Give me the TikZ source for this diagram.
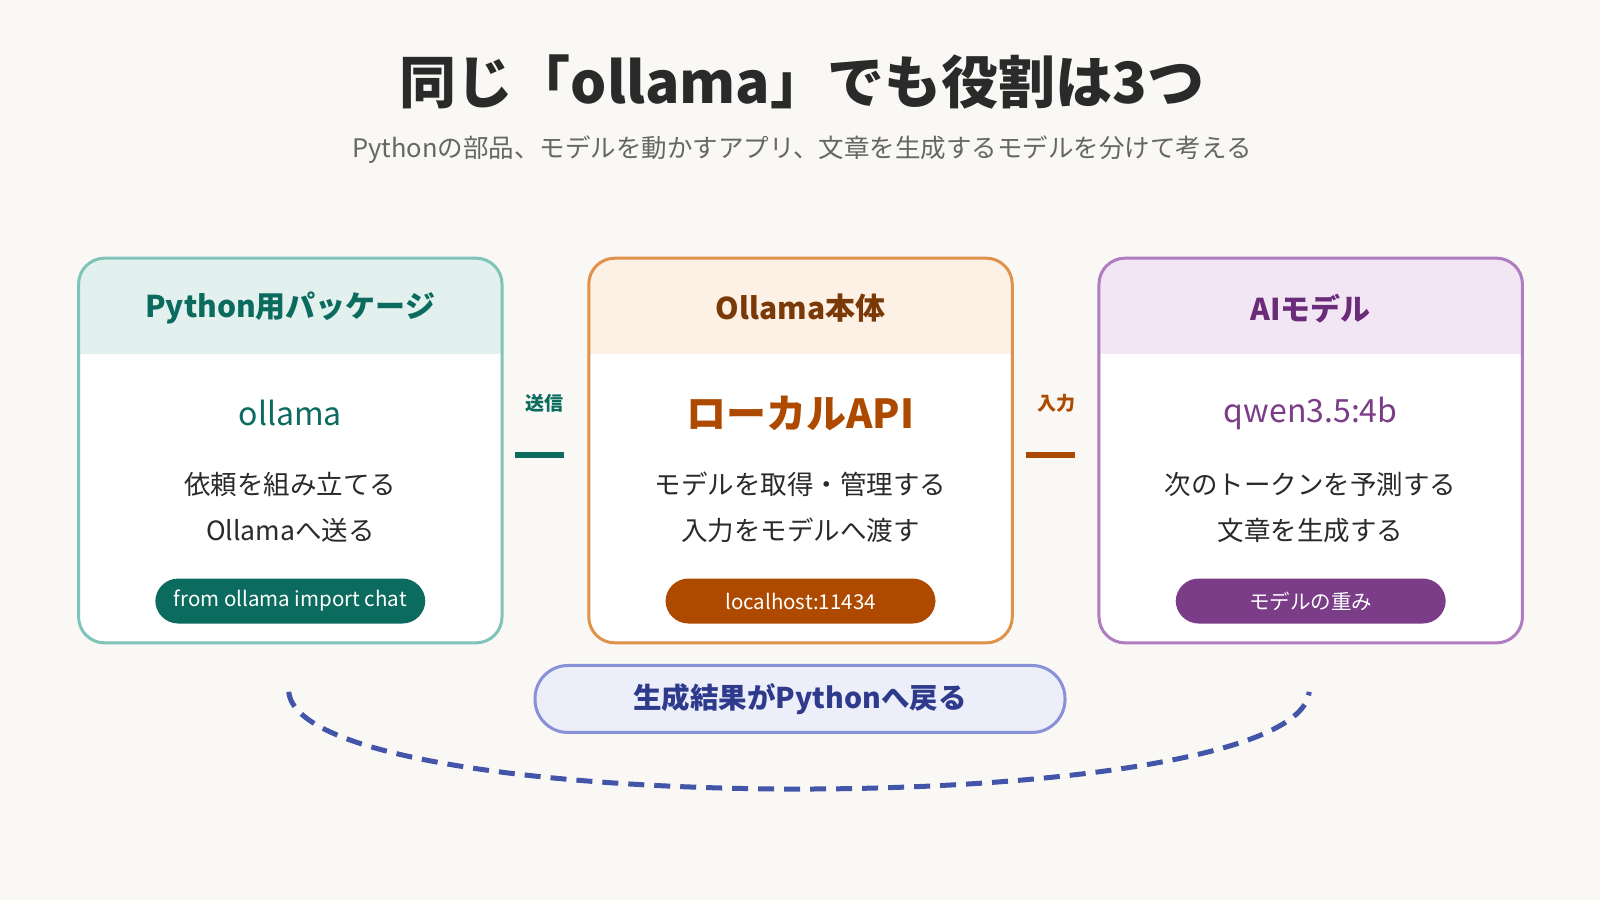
\documentclass[tikz,border=0pt]{standalone}
\usepackage{fontspec}
\setmainfont{Noto Sans CJK JP}
\usetikzlibrary{positioning}
\definecolor{bg}{HTML}{F9F8F5}
\definecolor{tealD}{HTML}{0B6B5F}\definecolor{tealB}{HTML}{7FC4B8}\definecolor{tealH}{HTML}{E3F1EE}
\definecolor{orT}{HTML}{7A3A08}\definecolor{orD}{HTML}{AE4A00}\definecolor{orB}{HTML}{E0914A}\definecolor{orH}{HTML}{FDF1E6}
\definecolor{puD}{HTML}{7B3C88}\definecolor{puT}{HTML}{6A2C78}\definecolor{puB}{HTML}{B07CC0}\definecolor{puH}{HTML}{F3E6F4}
\definecolor{blB}{HTML}{8890D8}\definecolor{blH}{HTML}{ECEEF9}\definecolor{blT}{HTML}{2E3B8C}\definecolor{blD}{HTML}{4355A8}
\definecolor{txt}{HTML}{2A2A2A}\definecolor{sub}{HTML}{666666}
\tikzset{
 fs/.style={font=\fontsize{#1}{#1}\selectfont},
 fb/.style={font=\fontsize{#1}{#1}\selectfont\bfseries},
 pill/.style={rounded corners=23pt,minimum width=270pt,minimum height=45pt,text=white,fs=20.5},
}
\begin{document}
\begin{tikzpicture}[x=1.0204pt,y=-1.0204pt]
\fill[bg] (0,0) rectangle (1568,882);
\useasboundingbox (0,0) rectangle (1568,882);
\node[fb=57,text=txt] (title) at (786,80) {同じ「ollama」でも役割は3つ};
\node[fs=25.5,text=sub] (subt) at (786,147) {Pythonの部品、モデルを動かすアプリ、文章を生成するモデルを分けて考える};
\foreach \x/\B/\H/\T/\D/\head/\main/\mf/\ms/\la/\lb/\pl/\n in {
 77/tealB/tealH/tealD/tealD/Python用パッケージ/ollama/fs/32/依頼を組み立てる/Ollamaへ送る/from ollama import chat/p,
 577/orB/orH/orT/orD/Ollama本体/ローカルAPI/fb/40/モデルを取得・管理する/入力をモデルへ渡す/localhost:11434/o,
 1077/puB/puH/puT/puD/AIモデル/qwen3.5:4b/fs/32/次のトークンを予測する/文章を生成する/モデルの重み/a}{
 \begin{scope}
 \clip[rounded corners=26pt] (\x,253) rectangle ++(415,377);
 \fill[white] (\x,253) rectangle ++(415,377);
 \fill[\H] (\x,253) rectangle ++(415,94);
 \end{scope}
 \draw[\B,line width=3pt,rounded corners=26pt] (\x,253) rectangle ++(415,377);
 \node[fb=30,text=\T] (h\n) at (\x+207.5,302) {\head};
 \node[\mf=\ms,text=\D] (m\n) at (\x+207.5,405) {\main};
 \node[fs=26.5,text=txt] (l1\n) at (\x+207.5,475) {\la};
 \node[fs=26.5,text=txt] (l2\n) at (\x+207.5,520) {\lb};
 \node[pill,fill=\D] (pl\n) at (\x+207.5,589) {\pl};
}
\coordinate (s1) at (505,446); \coordinate (s2) at (553,446);
\draw[tealD,line width=6pt] (s1) -- (s2);
\node[fb=19,text=tealD] (ls) at (534,395) {送信};
\coordinate (t1) at (1005,446); \coordinate (t2) at (1053,446);
\draw[orD,line width=6pt] (t1) -- (t2);
\node[fb=19,text=orD] (lt) at (1035,395) {入力};
\coordinate (d1) at (283,678); \coordinate (d2) at (1283,678);
\draw[blD,line width=5pt,dash pattern=on 16pt off 10pt] (d1) .. controls (295,805) and (1271,805) .. (d2);
\node[draw=blB,fill=blH,line width=3pt,rounded corners=33pt,minimum width=530pt,minimum height=67pt,fb=28.5,text=blT] (ret) at (784,685) {生成結果がPythonへ戻る};
\end{tikzpicture}
\end{document}
